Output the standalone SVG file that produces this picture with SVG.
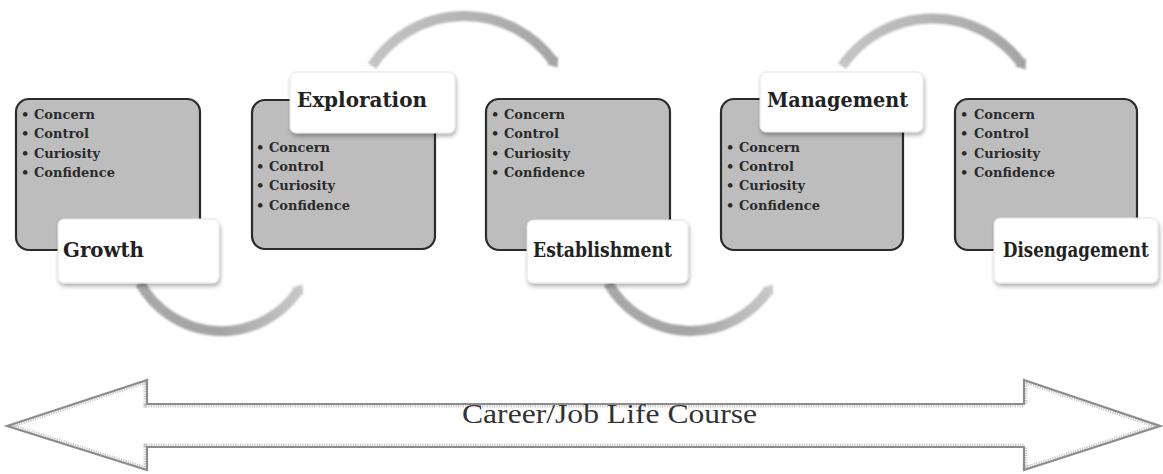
<svg xmlns="http://www.w3.org/2000/svg" width="1163" height="474" viewBox="0 0 1163 474">
  <style>
    .stage { fill: #bdbdbd; stroke: #2b2b2b; stroke-width: 2.2; }
    .label-box { fill: #ffffff; stroke: #e2e2e2; stroke-width: 1; filter: url(#shadow); }
    .label { font-family: "DejaVu Serif", "Liberation Serif", serif; font-weight: bold; font-size: 21px; fill: #222; }
    .item { font-family: "DejaVu Serif", "Liberation Serif", serif; font-weight: bold; font-size: 13px; fill: #2a2a2a; }
    .arc { fill: none; stroke-width: 10; stroke-linecap: butt; filter: url(#soft); }
    .course { font-family: "Liberation Serif", "Times New Roman", serif; font-size: 28px; fill: #333; }
  </style>
  <defs>
    <filter id="shadow" x="-10%" y="-20%" width="125%" height="150%">
      <feGaussianBlur in="SourceAlpha" stdDeviation="2"/>
      <feOffset dx="1" dy="3" result="b"/>
      <feComponentTransfer><feFuncA type="linear" slope="0.3"/></feComponentTransfer>
      <feMerge><feMergeNode/><feMergeNode in="SourceGraphic"/></feMerge>
    </filter>
    <filter id="soft" x="-10%" y="-20%" width="120%" height="140%">
      <feGaussianBlur stdDeviation="1"/>
    </filter>
    <linearGradient id="gTop1" gradientUnits="userSpaceOnUse" x1="372" y1="0" x2="557" y2="0">
      <stop offset="0" stop-color="#c4c4c4"/>
      <stop offset="1" stop-color="#a4a4a4"/>
    </linearGradient>
    <linearGradient id="gTop2" gradientUnits="userSpaceOnUse" x1="842" y1="0" x2="1025" y2="0">
      <stop offset="0" stop-color="#c4c4c4"/>
      <stop offset="1" stop-color="#a4a4a4"/>
    </linearGradient>
    <linearGradient id="gBot1" gradientUnits="userSpaceOnUse" x1="140" y1="0" x2="302" y2="0">
      <stop offset="0" stop-color="#a8a8a8"/>
      <stop offset="0.5" stop-color="#a4a4a4"/>
      <stop offset="1" stop-color="#c8c8c8"/>
    </linearGradient>
    <linearGradient id="gBot2" gradientUnits="userSpaceOnUse" x1="608" y1="0" x2="772" y2="0">
      <stop offset="0" stop-color="#a8a8a8"/>
      <stop offset="0.5" stop-color="#a4a4a4"/>
      <stop offset="1" stop-color="#c8c8c8"/>
    </linearGradient>
    <marker id="headDark" markerUnits="userSpaceOnUse" markerWidth="12" markerHeight="14" refX="1" refY="7" orient="auto">
      <path d="M0,0 L9,7 L0,14 Z" fill="#a4a4a4"/>
    </marker>
    <marker id="headLight" markerUnits="userSpaceOnUse" markerWidth="12" markerHeight="14" refX="1" refY="7" orient="auto">
      <path d="M0,0 L9,7 L0,14 Z" fill="#c8c8c8"/>
    </marker>
    <clipPath id="courseClip">
      <polygon id="courseShape" points="7,426 147,380 147,404 1024,404 1024,380 1160,426 1024,470 1024,447 147,447 147,470"/>
    </clipPath>
  </defs>

  <rect width="1163" height="474" fill="#ffffff"/>

  <!-- curved connectors between stages -->
  <g id="connectors">
    <path class="arc" d="M372,66 A110,110 0 0,1 553,61" stroke="url(#gTop1)" marker-end="url(#headDark)"/>
    <path class="arc" d="M842,66 A110,110 0 0,1 1021,63" stroke="url(#gTop2)" marker-end="url(#headDark)"/>
    <path class="arc" d="M140,283 A93,93 0 0,0 298,291" stroke="url(#gBot1)" marker-end="url(#headLight)"/>
    <path class="arc" d="M608,283 A95,95 0 0,0 768,291" stroke="url(#gBot2)" marker-end="url(#headLight)"/>
  </g>

  <!-- stage 1 -->
  <g id="growth">
    <rect class="stage" x="16" y="99" width="184" height="151" rx="13"/>
    <text class="item" x="21" y="119">•</text><text class="item" x="34" y="119">Concern</text>
    <text class="item" x="21" y="138">•</text><text class="item" x="34" y="138">Control</text>
    <text class="item" x="21" y="158">•</text><text class="item" x="34" y="158">Curiosity</text>
    <text class="item" x="21" y="177">•</text><text class="item" x="34" y="177">Confidence</text>
    <rect class="label-box" x="58" y="219" width="161" height="64" rx="6"/>
    <text class="label" x="63" y="257" textLength="81" lengthAdjust="spacingAndGlyphs">Growth</text>
  </g>

  <!-- stage 2 -->
  <g id="exploration">
    <rect class="stage" x="252" y="100" width="183" height="149" rx="13"/>
    <text class="item" x="256" y="152">•</text><text class="item" x="269" y="152">Concern</text>
    <text class="item" x="256" y="171">•</text><text class="item" x="269" y="171">Control</text>
    <text class="item" x="256" y="190">•</text><text class="item" x="269" y="190">Curiosity</text>
    <text class="item" x="256" y="210">•</text><text class="item" x="269" y="210">Confidence</text>
    <rect class="label-box" x="290" y="72" width="165" height="61" rx="6"/>
    <text class="label" x="297" y="107" textLength="130" lengthAdjust="spacingAndGlyphs">Exploration</text>
  </g>

  <!-- stage 3 -->
  <g id="establishment">
    <rect class="stage" x="486" y="99" width="184" height="151" rx="13"/>
    <text class="item" x="491" y="119">•</text><text class="item" x="504" y="119">Concern</text>
    <text class="item" x="491" y="138">•</text><text class="item" x="504" y="138">Control</text>
    <text class="item" x="491" y="158">•</text><text class="item" x="504" y="158">Curiosity</text>
    <text class="item" x="491" y="177">•</text><text class="item" x="504" y="177">Confidence</text>
    <rect class="label-box" x="527" y="220" width="161" height="63" rx="6"/>
    <text class="label" x="533" y="257" textLength="139" lengthAdjust="spacingAndGlyphs">Establishment</text>
  </g>

  <!-- stage 4 -->
  <g id="management">
    <rect class="stage" x="721" y="99" width="182" height="151" rx="13"/>
    <text class="item" x="726" y="152">•</text><text class="item" x="739" y="152">Concern</text>
    <text class="item" x="726" y="171">•</text><text class="item" x="739" y="171">Control</text>
    <text class="item" x="726" y="190">•</text><text class="item" x="739" y="190">Curiosity</text>
    <text class="item" x="726" y="210">•</text><text class="item" x="739" y="210">Confidence</text>
    <rect class="label-box" x="760" y="72" width="163" height="60" rx="6"/>
    <text class="label" x="767" y="107" textLength="141" lengthAdjust="spacingAndGlyphs">Management</text>
  </g>

  <!-- stage 5 -->
  <g id="disengagement">
    <rect class="stage" x="955" y="99" width="182" height="151" rx="13"/>
    <text class="item" x="960" y="119">•</text><text class="item" x="974" y="119">Concern</text>
    <text class="item" x="960" y="138">•</text><text class="item" x="974" y="138">Control</text>
    <text class="item" x="960" y="158">•</text><text class="item" x="974" y="158">Curiosity</text>
    <text class="item" x="960" y="177">•</text><text class="item" x="974" y="177">Confidence</text>
    <rect class="label-box" x="994" y="218" width="164" height="65" rx="6"/>
    <!-- condensed horizontally so the long word fits its tab -->
    <text class="label" transform="translate(1003,257) scale(0.8,1)" x="0" y="0" textLength="182" lengthAdjust="spacingAndGlyphs">Disengagement</text>
  </g>

  <!-- career course double arrow -->
  <g id="course">
    <use href="#courseShape" fill="#ffffff" stroke="#c8c8c8" stroke-width="7" stroke-dasharray="1.2 1.2" clip-path="url(#courseClip)"/>
    <use href="#courseShape" fill="none" stroke="#8c8c8c" stroke-width="2.2" stroke-linejoin="miter"/>
    <text class="course" x="462" y="423" textLength="295" lengthAdjust="spacingAndGlyphs">Career/Job Life Course</text>
  </g>
</svg>
